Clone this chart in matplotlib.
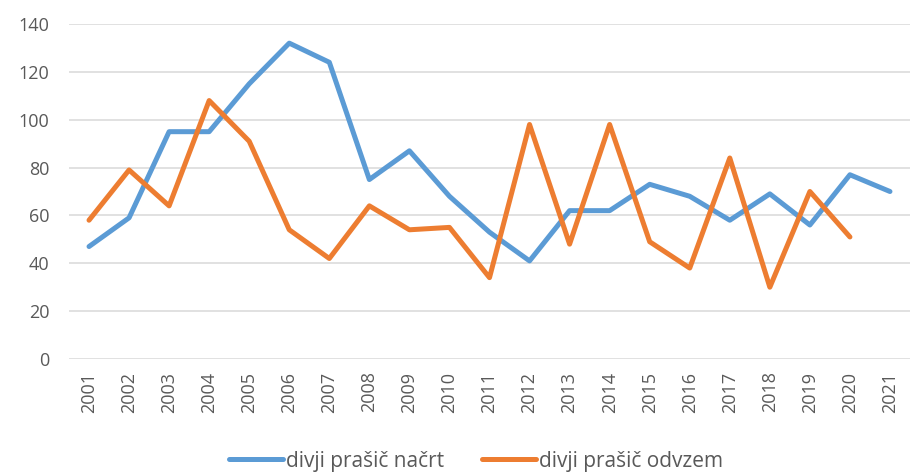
import matplotlib
matplotlib.use("Agg")
import matplotlib.pyplot as plt

years = [str(y) for y in range(2001, 2022)]
nacrt = [47, 59, 95, 95, 115, 132, 124, 75, 87, 68, 53, 41, 62, 62, 73, 68, 58, 69, 56, 77, 70]
odvzem = [58, 79, 64, 108, 91, 54, 42, 64, 54, 55, 34, 98, 48, 98, 49, 38, 84, 30, 70, 51]

plt.rcParams['font.family'] = ['Open Sans', 'DejaVu Sans']
gray = '#595959'

fig = plt.figure(figsize=(9.12, 4.73), dpi=100)
ax = fig.add_axes([69 / 912, 1 - 359 / 473, (910 - 69) / 912, (359 - 24) / 473])

x = list(range(len(years)))
ax.plot(x, nacrt, color='#5B9BD5', lw=3.6, solid_joinstyle='round', solid_capstyle='round',
        label='divji prašič načrt')
ax.plot(x[:len(odvzem)], odvzem, color='#ED7D31', lw=3.6, solid_joinstyle='round',
        solid_capstyle='round', label='divji prašič odvzem')

ax.set_xlim(-0.5, len(years) - 0.5)
ax.set_ylim(0, 140)
ax.set_yticks(range(0, 141, 20))
ax.set_xticks(x)
ax.set_xticklabels(years, rotation=90)
ax.tick_params(axis='both', length=0, colors=gray, labelsize=13)
ax.tick_params(axis='x', pad=9)
ax.tick_params(axis='y', pad=14)
ax.grid(axis='y', color='#D9D9D9', lw=1.1)
ax.set_axisbelow(True)
for s in ax.spines.values():
    s.set_visible(False)

leg = fig.legend(loc='center', bbox_to_anchor=(476 / 912, 1 - 461 / 473), ncol=2, frameon=False,
                 fontsize=15, handlelength=2.6, handletextpad=0.15, columnspacing=1.8)
for t in leg.get_texts():
    t.set_color(gray)

fig.savefig('out.png', dpi=100)
